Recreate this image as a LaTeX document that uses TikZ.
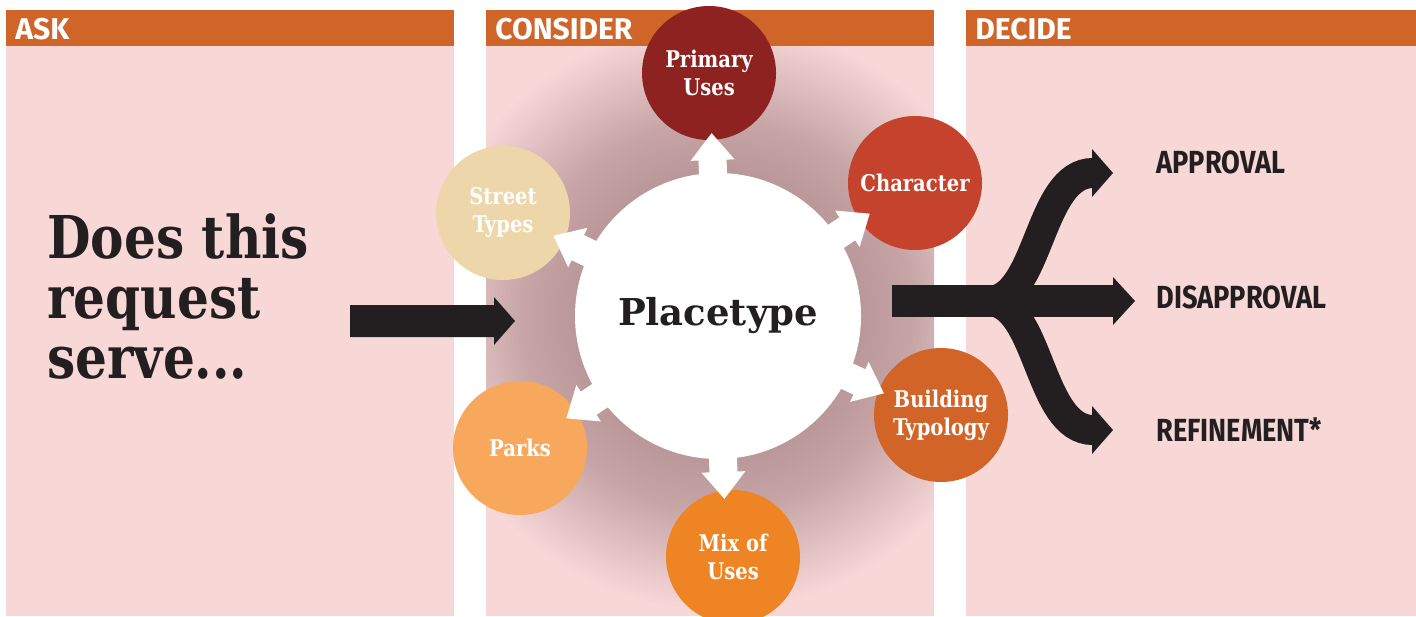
\documentclass[tikz,border=0pt]{standalone}
\usepackage{fontspec}
\usepackage{tikz}
\setmainfont{DejaVu Serif}
\newfontfamily\slabfont{DejaVu Serif}[FakeStretch=0.85]
\newfontfamily\headfont{Fira Sans}
\newfontfamily\decidefont{Fira Sans}[FakeStretch=0.85]

\definecolor{barorange}{RGB}{208,101,42}
\definecolor{panelpink}{RGB}{247,216,215}
\definecolor{ink}{RGB}{35,31,32}
\definecolor{glow}{RGB}{150,112,116}
\definecolor{primarycol}{RGB}{142,34,32}
\definecolor{charactercol}{RGB}{197,67,44}
\definecolor{buildingcol}{RGB}{210,100,40}
\definecolor{mixcol}{RGB}{238,132,36}
\definecolor{parkscol}{RGB}{248,168,92}
\definecolor{streetcol}{RGB}{237,215,170}

\begin{document}
\begin{tikzpicture}[x=0.5pt, y=-0.5pt,
    heading/.style={anchor=base west, inner sep=0pt, text=white,
        font=\headfont\bfseries\fontsize{15}{18}\selectfont},
    topic/.style={circle, minimum size=67pt, inner sep=0pt, align=center,
        text=white, font=\slabfont\bfseries\fontsize{11.5}{14}\selectfont},
    outcome/.style={anchor=base west, inner sep=0pt, text=ink,
        font=\decidefont\bfseries\fontsize{16}{18}\selectfont}]
    \useasboundingbox (0,0) rectangle (1416,616);

    % Draw the three columns
    \foreach \x/\w in {6/448, 486/448, 966/450} {
        \fill[panelpink] (\x,46) rectangle ++(\w,570);
        \fill[barorange] (\x,10) rectangle ++(\w,36);
    }
    \node[heading] (ask) at (15,39) {ASK};
    \node[heading] (consider) at (495,39) {CONSIDER};
    \node[heading] (decide) at (975,39) {DECIDE};

    % Soft glow round the placetype
    \begin{scope}
        \clip (486,46) rectangle (934,616);
        \foreach \r in {145,149,...,295}
            \fill[glow, opacity=0.02] (718,316) circle (\r);
    \end{scope}

    % Draw the six topics
    \node[topic, fill=primarycol] (primary) at (709,73) {Primary\\Uses};
    \node[topic, fill=charactercol] (character) at (915,183) {Character};
    \node[topic, fill=buildingcol] (building) at (941,415) {Building\\Typology};
    \node[topic, fill=mixcol] (mix) at (733,557) {Mix of\\Uses};
    \node[topic, fill=parkscol] (parks) at (520,448) {Parks};
    \node[topic, fill=streetcol] (street) at (503,213) {Street\\Types};

    % Draw white arrows out to the topics
    \foreach \a in {-92,-34,25,88,146,206}
        \fill[white, shift={(718,316)}, rotate=-\a]
            (130,-14) -- (156,-14) -- (156,-22) -- (183,0)
            -- (156,22) -- (156,14) -- (130,14) -- cycle;

    % Draw centre circle
    \node[circle, fill=white, minimum size=143pt, inner sep=0pt, text=ink,
        font=\bfseries\fontsize{18.5}{22}\selectfont] (place) at (718,316) {Placetype};

    % Draw question
    \node[anchor=north west, align=left, inner sep=0pt, text=ink,
        font=\slabfont\bfseries\fontsize{29.5}{30}\selectfont] (question) at (47,213)
        {Does this\\request\\serve...};

    % Draw arrow into the placetype
    \fill[ink] (350,305) -- (494,305) -- (494,297) -- (515,321)
        -- (494,345) -- (494,337) -- (350,337) -- cycle;

    % Draw fork towards the decisions
    \fill[ink] (892,285) rectangle (1113,317);
    \fill[ink] (1113,277) -- (1135,301) -- (1113,325) -- cycle;
    \draw[ink, line width=15pt] (988,301) .. controls (1040,301) and (1038,173) .. (1093,173);
    \draw[ink, line width=15pt] (988,301) .. controls (1040,301) and (1038,430) .. (1093,430);
    \fill[ink] (1092,149) -- (1113,173) -- (1092,197) -- cycle;
    \fill[ink] (1092,406) -- (1113,430) -- (1092,454) -- cycle;

    % Draw outcomes
    \node[outcome] (approval) at (1156,173) {APPROVAL};
    \node[outcome] (disapproval) at (1156,308) {DISAPPROVAL};
    \node[outcome] (refinement) at (1156,441) {REFINEMENT*};
\end{tikzpicture}
\end{document}
